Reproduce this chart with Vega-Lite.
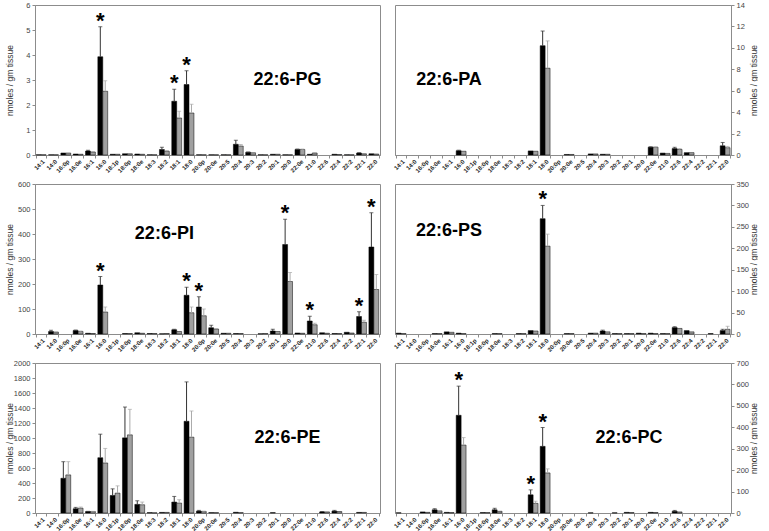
{
"$schema": "https://vega.github.io/schema/vega-lite/v6.json",
"padding": {"left": 4, "top": 0, "right": 0, "bottom": 0},
"background": "white",
"datasets": {
"bars": [
{"p":"PG","c":"14:1","g":"a","v":0.01},{"p":"PG","c":"14:1","g":"b","v":0.01},
{"p":"PG","c":"14:0","g":"a","v":0.01},{"p":"PG","c":"14:0","g":"b","v":0.01},
{"p":"PG","c":"16:0p","g":"a","v":0.08},{"p":"PG","c":"16:0p","g":"b","v":0.08},
{"p":"PG","c":"16:0e","g":"a","v":0.04},{"p":"PG","c":"16:0e","g":"b","v":0.03},
{"p":"PG","c":"16:1","g":"a","v":0.16,"hi":0.19},{"p":"PG","c":"16:1","g":"b","v":0.12,"hi":0.14},
{"p":"PG","c":"16:0","g":"a","v":3.93,"hi":5.13,"s":1},{"p":"PG","c":"16:0","g":"b","v":2.55,"hi":2.97},
{"p":"PG","c":"18:1p","g":"a","v":0.03},{"p":"PG","c":"18:1p","g":"b","v":0.03},
{"p":"PG","c":"18:0p","g":"a","v":0.05},{"p":"PG","c":"18:0p","g":"b","v":0.05},
{"p":"PG","c":"18:0e","g":"a","v":0.04},{"p":"PG","c":"18:0e","g":"b","v":0.03},
{"p":"PG","c":"18:3","g":"a","v":0.01},{"p":"PG","c":"18:3","g":"b","v":0.01},
{"p":"PG","c":"18:2","g":"a","v":0.22,"hi":0.31},{"p":"PG","c":"18:2","g":"b","v":0.15,"hi":0.18},
{"p":"PG","c":"18:1","g":"a","v":2.15,"hi":2.63,"s":1},{"p":"PG","c":"18:1","g":"b","v":1.48,"hi":1.75},
{"p":"PG","c":"18:0","g":"a","v":2.82,"hi":3.37,"s":1},{"p":"PG","c":"18:0","g":"b","v":1.68,"hi":2.03},
{"p":"PG","c":"20:0p","g":"a","v":0.01},{"p":"PG","c":"20:0p","g":"b","v":0.01},
{"p":"PG","c":"20:0e","g":"a","v":0.01},{"p":"PG","c":"20:0e","g":"b","v":0.01},
{"p":"PG","c":"20:5","g":"a","v":0.01},{"p":"PG","c":"20:5","g":"b","v":0.01},
{"p":"PG","c":"20:4","g":"a","v":0.43,"hi":0.59},{"p":"PG","c":"20:4","g":"b","v":0.36,"hi":0.42},
{"p":"PG","c":"20:3","g":"a","v":0.11,"hi":0.12},{"p":"PG","c":"20:3","g":"b","v":0.09},
{"p":"PG","c":"20:2","g":"a","v":0.01},{"p":"PG","c":"20:2","g":"b","v":0.01},
{"p":"PG","c":"20:1","g":"a","v":0.03},{"p":"PG","c":"20:1","g":"b","v":0.03},
{"p":"PG","c":"20:0","g":"a","v":0.01},{"p":"PG","c":"20:0","g":"b","v":0.01},
{"p":"PG","c":"22:0e","g":"a","v":0.22,"hi":0.24},{"p":"PG","c":"22:0e","g":"b","v":0.22,"hi":0.24},
{"p":"PG","c":"21:0","g":"a","v":0.03},{"p":"PG","c":"21:0","g":"b","v":0.08,"hi":0.1},
{"p":"PG","c":"22:4","g":"a","v":0.03},{"p":"PG","c":"22:4","g":"b","v":0.02},
{"p":"PG","c":"22:2","g":"a","v":0.01},{"p":"PG","c":"22:2","g":"b","v":0.01},
{"p":"PG","c":"22:1","g":"a","v":0.08,"hi":0.09},{"p":"PG","c":"22:1","g":"b","v":0.05},
{"p":"PG","c":"22:0","g":"a","v":0.05},{"p":"PG","c":"22:0","g":"b","v":0.04},

{"p":"PA","c":"16:0","g":"a","v":0.4,"hi":0.45},{"p":"PA","c":"16:0","g":"b","v":0.35},
{"p":"PA","c":"18:1","g":"a","v":0.38},{"p":"PA","c":"18:1","g":"b","v":0.35},
{"p":"PA","c":"18:0","g":"a","v":10.2,"hi":11.57},{"p":"PA","c":"18:0","g":"b","v":8.1,"hi":10.65},
{"p":"PA","c":"20:0e","g":"a","v":0.05},{"p":"PA","c":"20:0e","g":"b","v":0.05},
{"p":"PA","c":"20:4","g":"a","v":0.1},{"p":"PA","c":"20:4","g":"b","v":0.1},
{"p":"PA","c":"20:3","g":"a","v":0.07},{"p":"PA","c":"20:3","g":"b","v":0.07},
{"p":"PA","c":"22:0e","g":"a","v":0.73,"hi":0.76},{"p":"PA","c":"22:0e","g":"b","v":0.73,"hi":0.76},
{"p":"PA","c":"21:0","g":"a","v":0.18},{"p":"PA","c":"21:0","g":"b","v":0.15},
{"p":"PA","c":"22:6","g":"a","v":0.6,"hi":0.72},{"p":"PA","c":"22:6","g":"b","v":0.52,"hi":0.6},
{"p":"PA","c":"22:4","g":"a","v":0.22},{"p":"PA","c":"22:4","g":"b","v":0.22},
{"p":"PA","c":"22:0","g":"a","v":0.86,"hi":1.17},{"p":"PA","c":"22:0","g":"b","v":0.68,"hi":0.8},

{"p":"PI","c":"14:0","g":"a","v":10,"hi":15},{"p":"PI","c":"14:0","g":"b","v":8},
{"p":"PI","c":"16:0e","g":"a","v":14,"hi":16},{"p":"PI","c":"16:0e","g":"b","v":10,"hi":12},
{"p":"PI","c":"16:1","g":"a","v":3},{"p":"PI","c":"16:1","g":"b","v":2},
{"p":"PI","c":"16:0","g":"a","v":196,"hi":230,"s":1},{"p":"PI","c":"16:0","g":"b","v":88,"hi":108},
{"p":"PI","c":"18:0p","g":"a","v":2},{"p":"PI","c":"18:0p","g":"b","v":2},
{"p":"PI","c":"18:0e","g":"a","v":5},{"p":"PI","c":"18:0e","g":"b","v":3},
{"p":"PI","c":"18:3","g":"a","v":2},{"p":"PI","c":"18:3","g":"b","v":2},
{"p":"PI","c":"18:2","g":"a","v":1},{"p":"PI","c":"18:2","g":"b","v":2},
{"p":"PI","c":"18:1","g":"a","v":17,"hi":19},{"p":"PI","c":"18:1","g":"b","v":10},
{"p":"PI","c":"18:0","g":"a","v":155,"hi":187,"s":1},{"p":"PI","c":"18:0","g":"b","v":85,"hi":108},
{"p":"PI","c":"20:0p","g":"a","v":108,"hi":149,"s":1},{"p":"PI","c":"20:0p","g":"b","v":73,"hi":100},
{"p":"PI","c":"20:0e","g":"a","v":25,"hi":35},{"p":"PI","c":"20:0e","g":"b","v":20,"hi":22},
{"p":"PI","c":"20:5","g":"a","v":3},{"p":"PI","c":"20:5","g":"b","v":3},
{"p":"PI","c":"20:4","g":"a","v":2},{"p":"PI","c":"20:4","g":"b","v":2},
{"p":"PI","c":"20:2","g":"a","v":1},{"p":"PI","c":"20:2","g":"b","v":2},
{"p":"PI","c":"20:1","g":"a","v":12,"hi":19},{"p":"PI","c":"20:1","g":"b","v":10},
{"p":"PI","c":"20:0","g":"a","v":358,"hi":459,"s":1},{"p":"PI","c":"20:0","g":"b","v":210,"hi":246},
{"p":"PI","c":"22:0e","g":"a","v":4},{"p":"PI","c":"22:0e","g":"b","v":3},
{"p":"PI","c":"21:0","g":"a","v":52,"hi":71,"s":1},{"p":"PI","c":"21:0","g":"b","v":37,"hi":43},
{"p":"PI","c":"22:6","g":"a","v":5},{"p":"PI","c":"22:6","g":"b","v":3},
{"p":"PI","c":"22:4","g":"a","v":2},{"p":"PI","c":"22:4","g":"b","v":2},
{"p":"PI","c":"22:2","g":"a","v":7},{"p":"PI","c":"22:2","g":"b","v":4},
{"p":"PI","c":"22:1","g":"a","v":70,"hi":89,"s":1},{"p":"PI","c":"22:1","g":"b","v":47,"hi":55},
{"p":"PI","c":"22:0","g":"a","v":348,"hi":485,"s":1},{"p":"PI","c":"22:0","g":"b","v":178,"hi":238},

{"p":"PS","c":"14:1","g":"a","v":2},{"p":"PS","c":"14:1","g":"b","v":1},
{"p":"PS","c":"16:0e","g":"a","v":1},{"p":"PS","c":"16:0e","g":"b","v":1},
{"p":"PS","c":"16:1","g":"a","v":5},{"p":"PS","c":"16:1","g":"b","v":4},
{"p":"PS","c":"16:0","g":"a","v":2},{"p":"PS","c":"16:0","g":"b","v":1},
{"p":"PS","c":"18:0e","g":"a","v":1},{"p":"PS","c":"18:0e","g":"b","v":1},
{"p":"PS","c":"18:2","g":"a","v":1},{"p":"PS","c":"18:2","g":"b","v":1},
{"p":"PS","c":"18:1","g":"a","v":8},{"p":"PS","c":"18:1","g":"b","v":7},
{"p":"PS","c":"18:0","g":"a","v":269,"hi":300,"s":1},{"p":"PS","c":"18:0","g":"b","v":205,"hi":233},
{"p":"PS","c":"20:0e","g":"a","v":1},{"p":"PS","c":"20:0e","g":"b","v":1},
{"p":"PS","c":"20:4","g":"a","v":2},{"p":"PS","c":"20:4","g":"b","v":2},
{"p":"PS","c":"20:3","g":"a","v":7,"hi":9},{"p":"PS","c":"20:3","g":"b","v":5},
{"p":"PS","c":"20:2","g":"a","v":1},{"p":"PS","c":"20:2","g":"b","v":1},
{"p":"PS","c":"20:1","g":"a","v":1},{"p":"PS","c":"20:1","g":"b","v":1},
{"p":"PS","c":"20:0","g":"a","v":2},{"p":"PS","c":"20:0","g":"b","v":1},
{"p":"PS","c":"22:0e","g":"a","v":2},{"p":"PS","c":"22:0e","g":"b","v":1},
{"p":"PS","c":"21:0","g":"a","v":1},{"p":"PS","c":"21:0","g":"b","v":1},
{"p":"PS","c":"22:6","g":"a","v":15,"hi":17},{"p":"PS","c":"22:6","g":"b","v":13},
{"p":"PS","c":"22:4","g":"a","v":8},{"p":"PS","c":"22:4","g":"b","v":5},
{"p":"PS","c":"22:1","g":"a","v":1},
{"p":"PS","c":"22:0","g":"a","v":8,"hi":11},{"p":"PS","c":"22:0","g":"b","v":11,"hi":18},

{"p":"PE","c":"16:0p","g":"a","v":463,"hi":684},{"p":"PE","c":"16:0p","g":"b","v":508,"hi":685},
{"p":"PE","c":"16:0e","g":"a","v":57,"hi":75},{"p":"PE","c":"16:0e","g":"b","v":65,"hi":80},
{"p":"PE","c":"16:1","g":"a","v":20,"hi":22},{"p":"PE","c":"16:1","g":"b","v":20,"hi":22},
{"p":"PE","c":"16:0","g":"a","v":737,"hi":1051},{"p":"PE","c":"16:0","g":"b","v":667,"hi":861},
{"p":"PE","c":"18:1p","g":"a","v":234,"hi":322},{"p":"PE","c":"18:1p","g":"b","v":265,"hi":362},
{"p":"PE","c":"18:0p","g":"a","v":1002,"hi":1413},{"p":"PE","c":"18:0p","g":"b","v":1042,"hi":1382},
{"p":"PE","c":"18:0e","g":"a","v":115,"hi":163},{"p":"PE","c":"18:0e","g":"b","v":110,"hi":146},
{"p":"PE","c":"18:3","g":"a","v":5},{"p":"PE","c":"18:3","g":"b","v":3},
{"p":"PE","c":"18:2","g":"a","v":8},{"p":"PE","c":"18:2","g":"b","v":8},
{"p":"PE","c":"18:1","g":"a","v":146,"hi":221},{"p":"PE","c":"18:1","g":"b","v":132,"hi":177},
{"p":"PE","c":"18:0","g":"a","v":1223,"hi":1748},{"p":"PE","c":"18:0","g":"b","v":1011,"hi":1360},
{"p":"PE","c":"20:0p","g":"a","v":25,"hi":35},{"p":"PE","c":"20:0p","g":"b","v":20,"hi":25},
{"p":"PE","c":"20:0e","g":"a","v":5},{"p":"PE","c":"20:0e","g":"b","v":5},
{"p":"PE","c":"20:4","g":"a","v":10},{"p":"PE","c":"20:4","g":"b","v":5},
{"p":"PE","c":"20:1","g":"a","v":5},
{"p":"PE","c":"22:6","g":"a","v":15,"hi":20},{"p":"PE","c":"22:6","g":"b","v":15},
{"p":"PE","c":"22:4","g":"a","v":25,"hi":35},{"p":"PE","c":"22:4","g":"b","v":20},
{"p":"PE","c":"22:1","g":"a","v":8},{"p":"PE","c":"22:1","g":"b","v":8},

{"p":"PC","c":"14:1","g":"a","v":1},
{"p":"PC","c":"16:0p","g":"a","v":5},{"p":"PC","c":"16:0p","g":"b","v":3},
{"p":"PC","c":"16:0e","g":"a","v":15,"hi":20},{"p":"PC","c":"16:0e","g":"b","v":10},
{"p":"PC","c":"16:1","g":"a","v":3},{"p":"PC","c":"16:1","g":"b","v":2},
{"p":"PC","c":"16:0","g":"a","v":456,"hi":592,"s":1},{"p":"PC","c":"16:0","g":"b","v":317,"hi":352},
{"p":"PC","c":"18:0p","g":"a","v":2},{"p":"PC","c":"18:0p","g":"b","v":2},
{"p":"PC","c":"18:0e","g":"a","v":15,"hi":22},{"p":"PC","c":"18:0e","g":"b","v":8},
{"p":"PC","c":"18:1","g":"a","v":85,"hi":108,"s":1},{"p":"PC","c":"18:1","g":"b","v":45,"hi":55},
{"p":"PC","c":"18:0","g":"a","v":311,"hi":399,"s":1},{"p":"PC","c":"18:0","g":"b","v":187,"hi":206},
{"p":"PC","c":"20:4","g":"a","v":1},
{"p":"PC","c":"20:2","g":"a","v":1},
{"p":"PC","c":"20:1","g":"a","v":3},{"p":"PC","c":"20:1","g":"b","v":2},
{"p":"PC","c":"22:0e","g":"a","v":3},{"p":"PC","c":"22:0e","g":"b","v":2},
{"p":"PC","c":"22:6","g":"a","v":8,"hi":12},{"p":"PC","c":"22:6","g":"b","v":5}
]
},
"config": {
"font": "Liberation Sans",
"view": {"stroke": "#8c8c8c", "strokeWidth": 1},
"axis": {"grid": false, "domainColor": "#8c8c8c", "tickColor": "#8c8c8c", "labelFont": "Liberation Sans", "titleFont": "Liberation Sans"},
"axisX": {"labelAngle": -45, "labelFontSize": 6, "labelFontWeight": "bold", "labelColor": "#222", "tickSize": 3, "tickBand": "extent", "labelPadding": 0, "labelOverlap": false, "title": null},
"axisY": {"labelFontSize": 7.5, "labelColor": "#444", "tickSize": 3, "labelPadding": 2, "labelOverlap": false, "labelBound": false, "format": "d", "titleFontSize": 8.5, "titleFontWeight": "normal", "titleColor": "#333"}
},
"vconcat": [
{"hconcat": [
{"width": 345, "height": 150,
 "encoding": {"x": {"field": "c", "type": "nominal", "scale": {"domain": ["14:1","14:0","16:0p","16:0e","16:1","16:0","18:1p","18:0p","18:0e","18:3","18:2","18:1","18:0","20:0p","20:0e","20:5","20:4","20:3","20:2","20:1","20:0","22:0e","21:0","22:6","22:4","22:2","22:1","22:0"], "paddingInner": 0.2, "paddingOuter": 0.1}, "axis": {"title": null}}},
 "layer": [
  {"data": {"name": "bars"}, "transform": [{"filter": "datum.p == 'PG'"}],
   "layer": [
    {"mark": {"type": "bar", "stroke": "#000", "strokeWidth": 0.5},
     "encoding": {"xOffset": {"field": "g", "type": "nominal", "scale": {"domain": ["a","b"], "paddingInner": 0, "paddingOuter": 0}},
      "y": {"field": "v", "type": "quantitative", "scale": {"domain": [0, 6], "nice": false}, "axis": {"title": "nmoles / gm tissue", "values": [0,1,2,3,4,5,6], "labelOverlap": false, "format": "d", "minExtent": 20, "maxExtent": 20, "titlePadding": 1}},
      "color": {"condition": {"test": "datum.g == 'a'", "value": "#000"}, "value": "#a0a0a0"}}},
    {"transform": [{"filter": "isValid(datum.hi)"}], "mark": {"type": "rule", "strokeWidth": 1},
     "encoding": {"xOffset": {"field": "g", "type": "nominal"}, "y": {"field": "v", "type": "quantitative", "axis": {"title": "nmoles / gm tissue", "values": [0,1,2,3,4,5,6], "labelOverlap": false, "format": "d", "minExtent": 20, "maxExtent": 20, "titlePadding": 1}}, "y2": {"field": "hi"},
      "color": {"condition": {"test": "datum.g == 'a'", "value": "#333"}, "value": "#aaa"}}},
    {"transform": [{"filter": "isValid(datum.hi)"}], "mark": {"type": "tick", "thickness": 1, "size": 4},
     "encoding": {"xOffset": {"field": "g", "type": "nominal"}, "y": {"field": "hi", "type": "quantitative", "axis": {"title": "nmoles / gm tissue", "values": [0,1,2,3,4,5,6], "labelOverlap": false, "format": "d", "minExtent": 20, "maxExtent": 20, "titlePadding": 1}},
      "color": {"condition": {"test": "datum.g == 'a'", "value": "#333"}, "value": "#aaa"}}},
    {"transform": [{"filter": "datum.s == 1"}], "mark": {"type": "text", "text": "*", "fontSize": 22, "fontWeight": "bold", "baseline": "alphabetic", "dy": 1, "color": "#000"},
     "encoding": {"xOffset": {"field": "g", "type": "nominal"}, "y": {"field": "hi", "type": "quantitative", "axis": {"title": "nmoles / gm tissue", "values": [0,1,2,3,4,5,6], "labelOverlap": false, "format": "d", "minExtent": 20, "maxExtent": 20, "titlePadding": 1}}}}
   ]},
  {"data": {"values": [{"t": "22:6-PG"}]}, "mark": {"type": "text", "fontSize": 18, "fontWeight": "bold", "color": "#000", "baseline": "middle", "align": "center"},
   "encoding": {"x": {"datum": "20:0"}, "y": {"datum": 3, "type": "quantitative", "axis": {"title": "nmoles / gm tissue", "values": [0,1,2,3,4,5,6], "labelOverlap": false, "format": "d", "minExtent": 20, "maxExtent": 20, "titlePadding": 1}}, "text": {"field": "t"}}}
 ]},
{"width": 336, "height": 150,
 "encoding": {"x": {"field": "c", "type": "nominal", "scale": {"domain": ["14:1","14:0","16:0p","16:0e","16:1","16:0","18:1p","18:0p","18:0e","18:3","18:2","18:1","18:0","20:0p","20:0e","20:5","20:4","20:3","20:2","20:1","20:0","22:0e","21:0","22:6","22:4","22:2","22:1","22:0"], "paddingInner": 0.2, "paddingOuter": 0.1}, "axis": {"title": null}}},
 "layer": [
  {"data": {"name": "bars"}, "transform": [{"filter": "datum.p == 'PA'"}],
   "layer": [
    {"mark": {"type": "bar", "stroke": "#000", "strokeWidth": 0.5},
     "encoding": {"xOffset": {"field": "g", "type": "nominal", "scale": {"domain": ["a","b"], "paddingInner": 0, "paddingOuter": 0}},
      "y": {"field": "v", "type": "quantitative", "scale": {"domain": [0, 14], "nice": false}, "axis": {"orient": "right", "title": "nmoles / gm tissue", "titleAngle": 270, "values": [0,2,4,6,8,10,12,14], "labelOverlap": false, "format": "d", "minExtent": 22, "maxExtent": 22, "titlePadding": 5}},
      "color": {"condition": {"test": "datum.g == 'a'", "value": "#000"}, "value": "#a0a0a0"}}},
    {"transform": [{"filter": "isValid(datum.hi)"}], "mark": {"type": "rule", "strokeWidth": 1},
     "encoding": {"xOffset": {"field": "g", "type": "nominal"}, "y": {"field": "v", "type": "quantitative", "axis": {"orient": "right", "title": "nmoles / gm tissue", "titleAngle": 270, "values": [0,2,4,6,8,10,12,14], "labelOverlap": false, "format": "d", "minExtent": 22, "maxExtent": 22, "titlePadding": 5}}, "y2": {"field": "hi"},
      "color": {"condition": {"test": "datum.g == 'a'", "value": "#333"}, "value": "#aaa"}}},
    {"transform": [{"filter": "isValid(datum.hi)"}], "mark": {"type": "tick", "thickness": 1, "size": 4},
     "encoding": {"xOffset": {"field": "g", "type": "nominal"}, "y": {"field": "hi", "type": "quantitative", "axis": {"orient": "right", "title": "nmoles / gm tissue", "titleAngle": 270, "values": [0,2,4,6,8,10,12,14], "labelOverlap": false, "format": "d", "minExtent": 22, "maxExtent": 22, "titlePadding": 5}},
      "color": {"condition": {"test": "datum.g == 'a'", "value": "#333"}, "value": "#aaa"}}}
   ]},
  {"data": {"values": [{"t": "22:6-PA"}]}, "mark": {"type": "text", "fontSize": 18, "fontWeight": "bold", "color": "#000", "baseline": "middle", "align": "center"},
   "encoding": {"x": {"datum": "16:1"}, "y": {"datum": 7, "type": "quantitative", "axis": {"orient": "right", "title": "nmoles / gm tissue", "titleAngle": 270, "values": [0,2,4,6,8,10,12,14], "labelOverlap": false, "format": "d", "minExtent": 22, "maxExtent": 22, "titlePadding": 5}}, "text": {"field": "t"}}}
 ]}
], "spacing": 15, "bounds": "flush"},
{"hconcat": [
{"width": 345, "height": 150,
 "encoding": {"x": {"field": "c", "type": "nominal", "scale": {"domain": ["14:1","14:0","16:0p","16:0e","16:1","16:0","18:1p","18:0p","18:0e","18:3","18:2","18:1","18:0","20:0p","20:0e","20:5","20:4","20:3","20:2","20:1","20:0","22:0e","21:0","22:6","22:4","22:2","22:1","22:0"], "paddingInner": 0.2, "paddingOuter": 0.1}, "axis": {"title": null}}},
 "layer": [
  {"data": {"name": "bars"}, "transform": [{"filter": "datum.p == 'PI'"}],
   "layer": [
    {"mark": {"type": "bar", "stroke": "#000", "strokeWidth": 0.5},
     "encoding": {"xOffset": {"field": "g", "type": "nominal", "scale": {"domain": ["a","b"], "paddingInner": 0, "paddingOuter": 0}},
      "y": {"field": "v", "type": "quantitative", "scale": {"domain": [0, 600], "nice": false}, "axis": {"title": "nmoles / gm tissue", "values": [0,100,200,300,400,500,600], "labelOverlap": false, "format": "d", "minExtent": 20, "maxExtent": 20, "titlePadding": 1}},
      "color": {"condition": {"test": "datum.g == 'a'", "value": "#000"}, "value": "#a0a0a0"}}},
    {"transform": [{"filter": "isValid(datum.hi)"}], "mark": {"type": "rule", "strokeWidth": 1},
     "encoding": {"xOffset": {"field": "g", "type": "nominal"}, "y": {"field": "v", "type": "quantitative", "axis": {"title": "nmoles / gm tissue", "values": [0,100,200,300,400,500,600], "labelOverlap": false, "format": "d", "minExtent": 20, "maxExtent": 20, "titlePadding": 1}}, "y2": {"field": "hi"},
      "color": {"condition": {"test": "datum.g == 'a'", "value": "#333"}, "value": "#aaa"}}},
    {"transform": [{"filter": "isValid(datum.hi)"}], "mark": {"type": "tick", "thickness": 1, "size": 4},
     "encoding": {"xOffset": {"field": "g", "type": "nominal"}, "y": {"field": "hi", "type": "quantitative", "axis": {"title": "nmoles / gm tissue", "values": [0,100,200,300,400,500,600], "labelOverlap": false, "format": "d", "minExtent": 20, "maxExtent": 20, "titlePadding": 1}},
      "color": {"condition": {"test": "datum.g == 'a'", "value": "#333"}, "value": "#aaa"}}},
    {"transform": [{"filter": "datum.s == 1"}], "mark": {"type": "text", "text": "*", "fontSize": 22, "fontWeight": "bold", "baseline": "alphabetic", "dy": 1, "color": "#000"},
     "encoding": {"xOffset": {"field": "g", "type": "nominal"}, "y": {"field": "hi", "type": "quantitative", "axis": {"title": "nmoles / gm tissue", "values": [0,100,200,300,400,500,600], "labelOverlap": false, "format": "d", "minExtent": 20, "maxExtent": 20, "titlePadding": 1}}}}
   ]},
  {"data": {"values": [{"t": "22:6-PI"}]}, "mark": {"type": "text", "fontSize": 18, "fontWeight": "bold", "color": "#000", "baseline": "middle", "align": "center"},
   "encoding": {"x": {"datum": "18:2"}, "y": {"datum": 400, "type": "quantitative", "axis": {"title": "nmoles / gm tissue", "values": [0,100,200,300,400,500,600], "labelOverlap": false, "format": "d", "minExtent": 20, "maxExtent": 20, "titlePadding": 1}}, "text": {"field": "t"}}}
 ]},
{"width": 336, "height": 150,
 "encoding": {"x": {"field": "c", "type": "nominal", "scale": {"domain": ["14:1","14:0","16:0p","16:0e","16:1","16:0","18:1p","18:0p","18:0e","18:3","18:2","18:1","18:0","20:0p","20:0e","20:5","20:4","20:3","20:2","20:1","20:0","22:0e","21:0","22:6","22:4","22:2","22:1","22:0"], "paddingInner": 0.2, "paddingOuter": 0.1}, "axis": {"title": null}}},
 "layer": [
  {"data": {"name": "bars"}, "transform": [{"filter": "datum.p == 'PS'"}],
   "layer": [
    {"mark": {"type": "bar", "stroke": "#000", "strokeWidth": 0.5},
     "encoding": {"xOffset": {"field": "g", "type": "nominal", "scale": {"domain": ["a","b"], "paddingInner": 0, "paddingOuter": 0}},
      "y": {"field": "v", "type": "quantitative", "scale": {"domain": [0, 350], "nice": false}, "axis": {"orient": "right", "title": "nmoles / gm tissue", "titleAngle": 270, "values": [0,50,100,150,200,250,300,350], "labelOverlap": false, "format": "d", "minExtent": 22, "maxExtent": 22, "titlePadding": 5}},
      "color": {"condition": {"test": "datum.g == 'a'", "value": "#000"}, "value": "#a0a0a0"}}},
    {"transform": [{"filter": "isValid(datum.hi)"}], "mark": {"type": "rule", "strokeWidth": 1},
     "encoding": {"xOffset": {"field": "g", "type": "nominal"}, "y": {"field": "v", "type": "quantitative", "axis": {"orient": "right", "title": "nmoles / gm tissue", "titleAngle": 270, "values": [0,50,100,150,200,250,300,350], "labelOverlap": false, "format": "d", "minExtent": 22, "maxExtent": 22, "titlePadding": 5}}, "y2": {"field": "hi"},
      "color": {"condition": {"test": "datum.g == 'a'", "value": "#333"}, "value": "#aaa"}}},
    {"transform": [{"filter": "isValid(datum.hi)"}], "mark": {"type": "tick", "thickness": 1, "size": 4},
     "encoding": {"xOffset": {"field": "g", "type": "nominal"}, "y": {"field": "hi", "type": "quantitative", "axis": {"orient": "right", "title": "nmoles / gm tissue", "titleAngle": 270, "values": [0,50,100,150,200,250,300,350], "labelOverlap": false, "format": "d", "minExtent": 22, "maxExtent": 22, "titlePadding": 5}},
      "color": {"condition": {"test": "datum.g == 'a'", "value": "#333"}, "value": "#aaa"}}},
    {"transform": [{"filter": "datum.s == 1"}], "mark": {"type": "text", "text": "*", "fontSize": 22, "fontWeight": "bold", "baseline": "alphabetic", "dy": 1, "color": "#000"},
     "encoding": {"xOffset": {"field": "g", "type": "nominal"}, "y": {"field": "hi", "type": "quantitative", "axis": {"orient": "right", "title": "nmoles / gm tissue", "titleAngle": 270, "values": [0,50,100,150,200,250,300,350], "labelOverlap": false, "format": "d", "minExtent": 22, "maxExtent": 22, "titlePadding": 5}}}}
   ]},
  {"data": {"values": [{"t": "22:6-PS"}]}, "mark": {"type": "text", "fontSize": 18, "fontWeight": "bold", "color": "#000", "baseline": "middle", "align": "center"},
   "encoding": {"x": {"datum": "16:1"}, "y": {"datum": 240, "type": "quantitative", "axis": {"orient": "right", "title": "nmoles / gm tissue", "titleAngle": 270, "values": [0,50,100,150,200,250,300,350], "labelOverlap": false, "format": "d", "minExtent": 22, "maxExtent": 22, "titlePadding": 5}}, "text": {"field": "t"}}}
 ]}
], "spacing": 15, "bounds": "flush"},
{"hconcat": [
{"width": 345, "height": 150,
 "encoding": {"x": {"field": "c", "type": "nominal", "scale": {"domain": ["14:1","14:0","16:0p","16:0e","16:1","16:0","18:1p","18:0p","18:0e","18:3","18:2","18:1","18:0","20:0p","20:0e","20:5","20:4","20:3","20:2","20:1","20:0","22:0e","21:0","22:6","22:4","22:2","22:1","22:0"], "paddingInner": 0.2, "paddingOuter": 0.1}, "axis": {"title": null}}},
 "layer": [
  {"data": {"name": "bars"}, "transform": [{"filter": "datum.p == 'PE'"}],
   "layer": [
    {"mark": {"type": "bar", "stroke": "#000", "strokeWidth": 0.5},
     "encoding": {"xOffset": {"field": "g", "type": "nominal", "scale": {"domain": ["a","b"], "paddingInner": 0, "paddingOuter": 0}},
      "y": {"field": "v", "type": "quantitative", "scale": {"domain": [0, 2000], "nice": false}, "axis": {"title": "nmoles / gm tissue", "values": [0,200,400,600,800,1000,1200,1400,1600,1800,2000], "labelOverlap": false, "format": "d", "minExtent": 20, "maxExtent": 20, "titlePadding": 1}},
      "color": {"condition": {"test": "datum.g == 'a'", "value": "#000"}, "value": "#a0a0a0"}}},
    {"transform": [{"filter": "isValid(datum.hi)"}], "mark": {"type": "rule", "strokeWidth": 1},
     "encoding": {"xOffset": {"field": "g", "type": "nominal"}, "y": {"field": "v", "type": "quantitative", "axis": {"title": "nmoles / gm tissue", "values": [0,200,400,600,800,1000,1200,1400,1600,1800,2000], "labelOverlap": false, "format": "d", "minExtent": 20, "maxExtent": 20, "titlePadding": 1}}, "y2": {"field": "hi"},
      "color": {"condition": {"test": "datum.g == 'a'", "value": "#333"}, "value": "#aaa"}}},
    {"transform": [{"filter": "isValid(datum.hi)"}], "mark": {"type": "tick", "thickness": 1, "size": 4},
     "encoding": {"xOffset": {"field": "g", "type": "nominal"}, "y": {"field": "hi", "type": "quantitative", "axis": {"title": "nmoles / gm tissue", "values": [0,200,400,600,800,1000,1200,1400,1600,1800,2000], "labelOverlap": false, "format": "d", "minExtent": 20, "maxExtent": 20, "titlePadding": 1}},
      "color": {"condition": {"test": "datum.g == 'a'", "value": "#333"}, "value": "#aaa"}}}
   ]},
  {"data": {"values": [{"t": "22:6-PE"}]}, "mark": {"type": "text", "fontSize": 18, "fontWeight": "bold", "color": "#000", "baseline": "middle", "align": "center"},
   "encoding": {"x": {"datum": "20:0"}, "y": {"datum": 1000, "type": "quantitative", "axis": {"title": "nmoles / gm tissue", "values": [0,200,400,600,800,1000,1200,1400,1600,1800,2000], "labelOverlap": false, "format": "d", "minExtent": 20, "maxExtent": 20, "titlePadding": 1}}, "text": {"field": "t"}}}
 ]},
{"width": 336, "height": 150,
 "encoding": {"x": {"field": "c", "type": "nominal", "scale": {"domain": ["14:1","14:0","16:0p","16:0e","16:1","16:0","18:1p","18:0p","18:0e","18:3","18:2","18:1","18:0","20:0p","20:0e","20:5","20:4","20:3","20:2","20:1","20:0","22:0e","21:0","22:6","22:4","22:2","22:1","22:0"], "paddingInner": 0.2, "paddingOuter": 0.1}, "axis": {"title": null}}},
 "layer": [
  {"data": {"name": "bars"}, "transform": [{"filter": "datum.p == 'PC'"}],
   "layer": [
    {"mark": {"type": "bar", "stroke": "#000", "strokeWidth": 0.5},
     "encoding": {"xOffset": {"field": "g", "type": "nominal", "scale": {"domain": ["a","b"], "paddingInner": 0, "paddingOuter": 0}},
      "y": {"field": "v", "type": "quantitative", "scale": {"domain": [0, 700], "nice": false}, "axis": {"orient": "right", "title": "nmoles / gm tissue", "titleAngle": 270, "values": [0,100,200,300,400,500,600,700], "labelOverlap": false, "format": "d", "minExtent": 22, "maxExtent": 22, "titlePadding": 5}},
      "color": {"condition": {"test": "datum.g == 'a'", "value": "#000"}, "value": "#a0a0a0"}}},
    {"transform": [{"filter": "isValid(datum.hi)"}], "mark": {"type": "rule", "strokeWidth": 1},
     "encoding": {"xOffset": {"field": "g", "type": "nominal"}, "y": {"field": "v", "type": "quantitative", "axis": {"orient": "right", "title": "nmoles / gm tissue", "titleAngle": 270, "values": [0,100,200,300,400,500,600,700], "labelOverlap": false, "format": "d", "minExtent": 22, "maxExtent": 22, "titlePadding": 5}}, "y2": {"field": "hi"},
      "color": {"condition": {"test": "datum.g == 'a'", "value": "#333"}, "value": "#aaa"}}},
    {"transform": [{"filter": "isValid(datum.hi)"}], "mark": {"type": "tick", "thickness": 1, "size": 4},
     "encoding": {"xOffset": {"field": "g", "type": "nominal"}, "y": {"field": "hi", "type": "quantitative", "axis": {"orient": "right", "title": "nmoles / gm tissue", "titleAngle": 270, "values": [0,100,200,300,400,500,600,700], "labelOverlap": false, "format": "d", "minExtent": 22, "maxExtent": 22, "titlePadding": 5}},
      "color": {"condition": {"test": "datum.g == 'a'", "value": "#333"}, "value": "#aaa"}}},
    {"transform": [{"filter": "datum.s == 1"}], "mark": {"type": "text", "text": "*", "fontSize": 22, "fontWeight": "bold", "baseline": "alphabetic", "dy": 1, "color": "#000"},
     "encoding": {"xOffset": {"field": "g", "type": "nominal"}, "y": {"field": "hi", "type": "quantitative", "axis": {"orient": "right", "title": "nmoles / gm tissue", "titleAngle": 270, "values": [0,100,200,300,400,500,600,700], "labelOverlap": false, "format": "d", "minExtent": 22, "maxExtent": 22, "titlePadding": 5}}}}
   ]},
  {"data": {"values": [{"t": "22:6-PC"}]}, "mark": {"type": "text", "fontSize": 18, "fontWeight": "bold", "color": "#000", "baseline": "middle", "align": "center"},
   "encoding": {"x": {"datum": "20:1"}, "y": {"datum": 350, "type": "quantitative", "axis": {"orient": "right", "title": "nmoles / gm tissue", "titleAngle": 270, "values": [0,100,200,300,400,500,600,700], "labelOverlap": false, "format": "d", "minExtent": 22, "maxExtent": 22, "titlePadding": 5}}, "text": {"field": "t"}}}
 ]}
], "spacing": 15, "bounds": "flush"}
], "spacing": 5, "bounds": "full"
}
